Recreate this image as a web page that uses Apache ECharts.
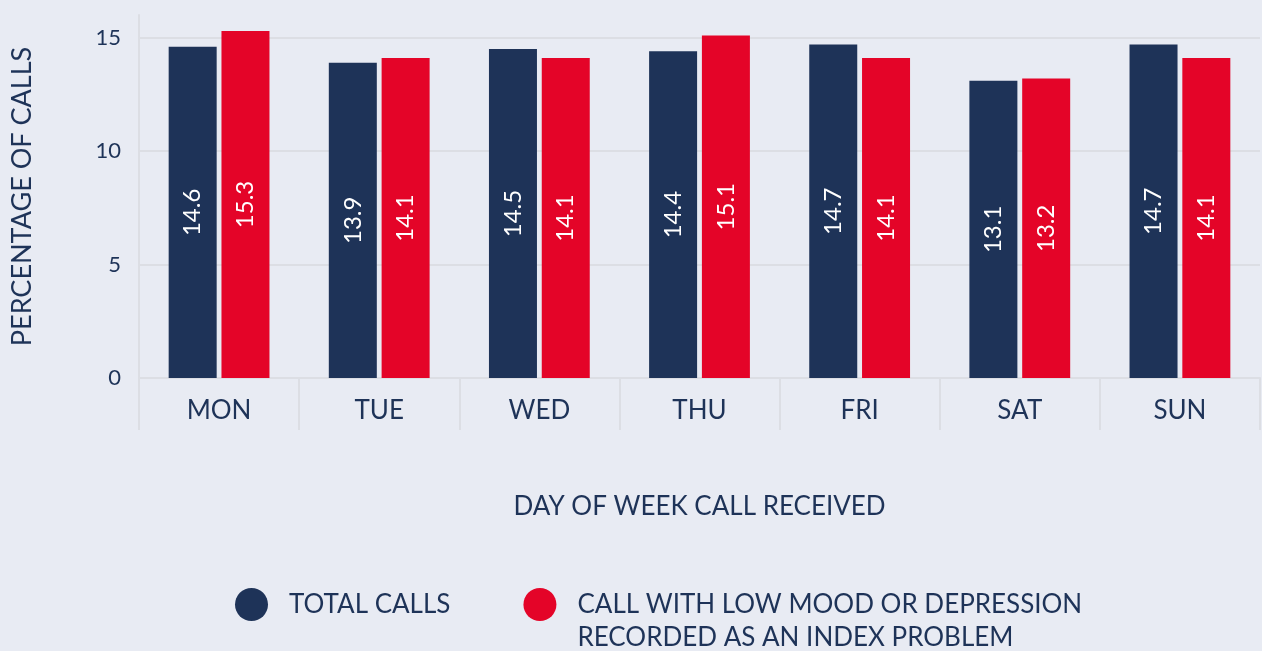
<!DOCTYPE html>
<html>
<head>
<meta charset="utf-8">
<script src="https://cdn.jsdelivr.net/npm/echarts@6/dist/echarts.min.js"></script>
<style>
  html, body { margin: 0; padding: 0; background: #e8ebf3; }
  #main { width: 1262px; height: 651px; }
</style>
</head>
<body>
<div id="main"></div>
<script>
// 数据
var days = ['MON', 'TUE', 'WED', 'THU', 'FRI', 'SAT', 'SUN'];
var totalCalls = [14.6, 13.9, 14.5, 14.4, 14.7, 13.1, 14.7];
var lowMoodCalls = [15.3, 14.1, 14.1, 15.1, 14.1, 13.2, 14.1];
var seriesNames = ['TOTAL CALLS', 'CALL WITH LOW MOOD OR DEPRESSION\nRECORDED AS AN INDEX PROBLEM'];

var navy = '#1e3358';
var red = '#e40428';
var lineColor = '#dcdee4';
var fontName = 'Lato';

var myChart = echarts.init(document.getElementById('main'));

// 柱内标签
function barLabel() {
    return {
        show: true,
        position: 'inside',
        rotate: 90,
        color: '#ffffff',
        fontFamily: fontName,
        fontSize: 24
    };
}

var option = {
    backgroundColor: '#e8ebf3',
    animation: false,
    grid: {
        left: 139,
        right: 2,
        top: 15,
        bottom: 273,
        containLabel: false
    },
    legend: {
        top: 550,
        left: 230,
        itemWidth: 33,
        itemHeight: 33,
        itemGap: 73,
        icon: 'circle',
        textStyle: {
            color: navy,
            fontFamily: fontName,
            fontSize: 26,
            lineHeight: 33,
            padding: [0, 0, 0, 16]
        },
        // 两行的图例前面加空行，让第一行和圆点对齐
        formatter: function (name) {
            return name.indexOf('\n') >= 0 ? '\n' + name : name;
        },
        data: seriesNames
    },
    xAxis: {
        type: 'category',
        data: days,
        name: 'DAY OF WEEK CALL RECEIVED',
        nameLocation: 'middle',
        nameGap: 116,
        nameTextStyle: {
            color: navy,
            fontFamily: fontName,
            fontSize: 26
        },
        axisLine: { lineStyle: { color: lineColor, width: 2 } },
        axisTick: { show: true, length: 52, lineStyle: { color: lineColor, width: 2 } },
        axisLabel: {
            color: navy,
            fontFamily: fontName,
            fontSize: 26,
            margin: 20
        }
    },
    yAxis: {
        type: 'value',
        min: 0,
        max: 16,
        interval: 5,
        name: 'PERCENTAGE OF CALLS',
        nameLocation: 'middle',
        nameGap: 103,
        nameTextStyle: {
            color: navy,
            fontFamily: fontName,
            fontSize: 27
        },
        axisLine: { show: true, lineStyle: { color: lineColor, width: 2 } },
        axisTick: { show: false },
        axisLabel: {
            color: navy,
            fontFamily: fontName,
            fontSize: 22,
            margin: 18,
            formatter: function (v) {
                return v % 5 === 0 ? v : '';
            }
        },
        splitLine: {
            show: true,
            showMaxLine: false,
            lineStyle: { color: lineColor, width: 2 }
        }
    },
    series: [
        {
            name: seriesNames[0],
            type: 'bar',
            data: totalCalls,
            barWidth: 48,
            barGap: '10%',
            itemStyle: { color: navy },
            label: barLabel()
        },
        {
            name: seriesNames[1],
            type: 'bar',
            data: lowMoodCalls,
            barWidth: 48,
            itemStyle: { color: red },
            label: barLabel()
        }
    ]
};

myChart.setOption(option, true);
</script>
</body>
</html>
